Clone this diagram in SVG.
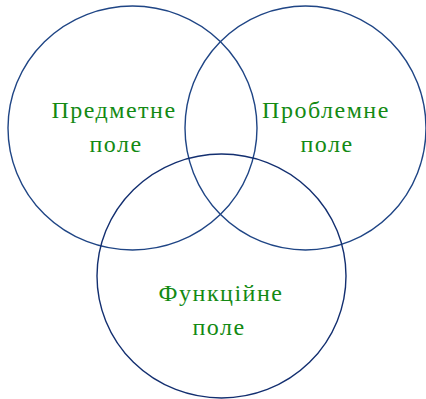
<svg xmlns="http://www.w3.org/2000/svg" width="426" height="399" viewBox="0 0 426 399">
<style>
.c{fill:none;stroke:#1f4585;stroke-width:1.4}
.c2{fill:none;stroke:#132f70;stroke-width:1.4}
.t{font-family:"Liberation Serif","Times New Roman",serif;font-size:24px;fill:#138a13;text-anchor:middle;letter-spacing:1.5px}
</style>
<rect width="426" height="399" fill="#fff"/>
<g id="connectors"></g>
<g id="predmetne">
<ellipse class="c" cx="132.5" cy="128" rx="124.5" ry="122"/>
<text class="t" x="114" y="118">Предметне</text>
<text class="t" x="116" y="152">поле</text>
</g>
<g id="problemne">
<ellipse class="c" cx="305.5" cy="128" rx="120.5" ry="122"/>
<text class="t" x="326" y="118">Проблемне</text>
<text class="t" x="327" y="152">поле</text>
</g>
<g id="funktsiine">
<ellipse class="c2" cx="221.5" cy="276" rx="124.5" ry="122"/>
<text class="t" x="221" y="301">Функційне</text>
<text class="t" x="219" y="335">поле</text>
</g>
</svg>
